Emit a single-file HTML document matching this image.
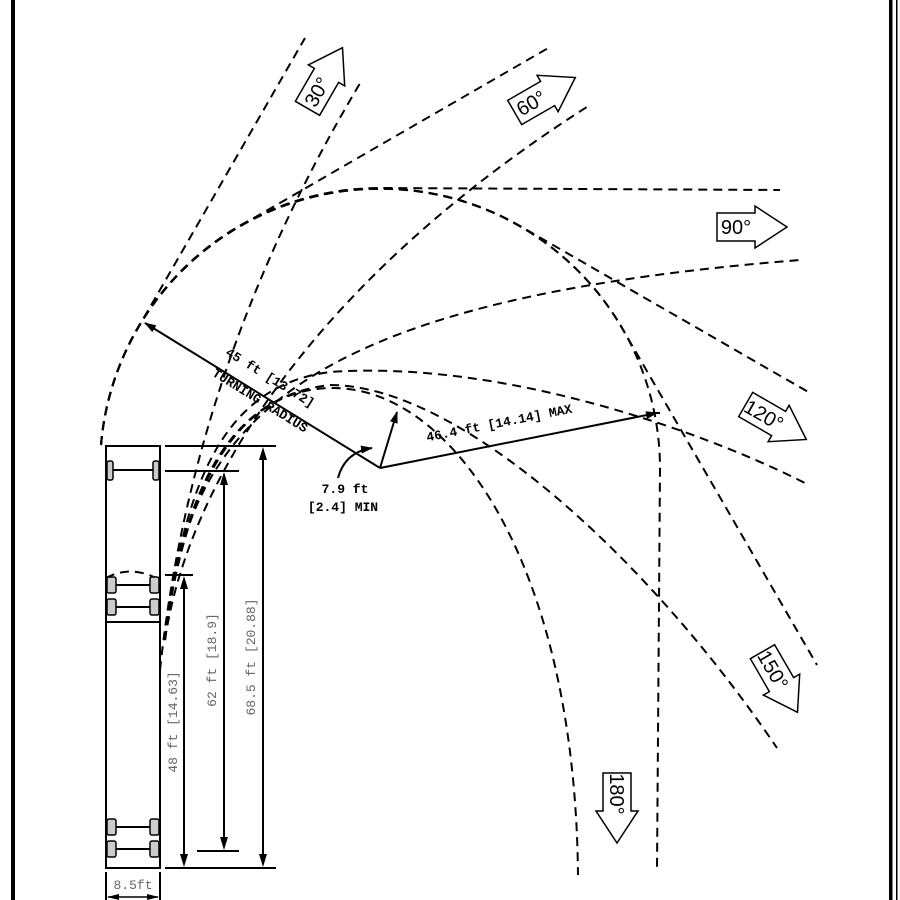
<!DOCTYPE html>
<html><head><meta charset="utf-8"><style>
html,body{margin:0;padding:0;background:#fff;width:900px;height:900px;overflow:hidden}
</style></head><body>
<svg width="900" height="900" viewBox="0 0 900 900" xmlns="http://www.w3.org/2000/svg">
<defs>
<marker id="ah" markerWidth="12" markerHeight="8" refX="11" refY="4" orient="auto" markerUnits="userSpaceOnUse">
<path d="M0,0 L12,4 L0,8 z" fill="#000"/></marker>
</defs>
<rect x="11" y="0" width="4" height="900" fill="#000"/>
<rect x="889" y="0" width="3.5" height="900" fill="#000"/>
<rect x="896" y="0" width="1.5" height="900" fill="#000"/>

<g fill="none" stroke="#000" stroke-width="2" stroke-dasharray="9 6">
<path d="M101,445 A280 280 0 0 1 138,328 L305,38"/>
<path d="M101,445 A280 280 0 0 1 240,226 L550,47"/>
<path d="M101,445 A280 280 0 0 1 380,188 L780,190"/>
<path d="M101,445 A280 280 0 0 1 520,226 L810,393"/>
<path d="M101,445 A280 280 0 0 1 622,328 L817,665"/>
<path d="M101,445 A280 280 0 0 1 660,468 L657,870"/>
<path d="M160,670 C178,500 230,300 362,80"/>
<path d="M165,640 C190,470 330,270 590,105"/>
<path d="M165,640 C185,420 300,300 800,260"/>
<path d="M165,640 C185,470 230,385 330,372 C500,360 700,430 805,483"/>
<path d="M165,640 C185,470 240,395 330,385 C460,385 650,560 777,748"/>
<path d="M165,640 C185,480 240,390 330,388 C450,385 575,560 578,875"/>
<path d="M106,578 Q130,565 156,578"/>
</g>

<g stroke="#000" stroke-width="2" fill="none">
<rect x="106" y="446" width="54" height="422"/>
<line x1="106" y1="622" x2="160" y2="622"/>
<line x1="111" y1="470" x2="155" y2="470"/>
<line x1="111" y1="585" x2="155" y2="585"/>
<line x1="111" y1="607" x2="155" y2="607"/>
<line x1="111" y1="827" x2="155" y2="827"/>
<line x1="111" y1="849" x2="155" y2="849"/>
</g>
<g fill="#ccc" stroke="#000" stroke-width="1.5">
<rect x="107" y="461" width="6" height="19" rx="2"/><rect x="153" y="461" width="6" height="19" rx="2"/>
<rect x="107" y="577" width="9" height="16" rx="2"/><rect x="150" y="577" width="9" height="16" rx="2"/>
<rect x="107" y="599" width="9" height="16" rx="2"/><rect x="150" y="599" width="9" height="16" rx="2"/>
<rect x="107" y="819" width="9" height="16" rx="2"/><rect x="150" y="819" width="9" height="16" rx="2"/>
<rect x="107" y="841" width="9" height="16" rx="2"/><rect x="150" y="841" width="9" height="16" rx="2"/>
</g>

<g stroke="#000" stroke-width="2" fill="none">
<line x1="165" y1="446" x2="276" y2="446"/>
<line x1="165" y1="471" x2="239" y2="471"/>
<line x1="165" y1="575" x2="193" y2="575"/>
<line x1="165" y1="868" x2="276" y2="868"/>
<line x1="197" y1="851" x2="239" y2="851"/>
<line x1="263" y1="458" x2="263" y2="856"/>
<line x1="224" y1="483" x2="224" y2="839"/>
<line x1="184" y1="587" x2="184" y2="856"/>
<line x1="106" y1="872" x2="106" y2="900"/>
<line x1="160" y1="872" x2="160" y2="900"/>
<line x1="108" y1="897" x2="158" y2="897" stroke-width="1.5"/>
</g>
<g fill="#000">
<path d="M263,447 l-4,13 h8z"/><path d="M263,867 l-4,-13 h8z"/>
<path d="M224,472 l-4,13 h8z"/><path d="M224,850 l-4,-13 h8z"/>
<path d="M184,576 l-4,13 h8z"/><path d="M184,867 l-4,-13 h8z"/>
<path d="M107,897 l12,-3 v6z"/><path d="M159,897 l-12,-3 v6z"/>
</g>
<g font-family="Liberation Mono, monospace" font-size="13" fill="#666" text-anchor="middle">
<text transform="translate(255,657) rotate(-90)">68.5 ft [20.88]</text>
<text transform="translate(216,660) rotate(-90)">62 ft [18.9]</text>
<text transform="translate(177,722) rotate(-90)">48 ft [14.63]</text>
<text x="133" y="889" font-size="13">8.5ft</text>
</g>

<g stroke="#000" stroke-width="2" fill="none">
<line x1="380" y1="468" x2="145" y2="323" marker-end="url(#ah)"/>
<line x1="380" y1="468" x2="657" y2="413" marker-end="url(#ah)"/>
<line x1="380" y1="468" x2="397" y2="412" marker-end="url(#ah)"/>
<path d="M338,478 Q345,452 372,448" marker-end="url(#ah)"/>
<line x1="652" y1="413" x2="660" y2="413"/>
</g>
<g font-family="Liberation Mono, monospace" font-size="13" font-weight="bold" fill="#000" text-anchor="middle">
<text transform="translate(268,381) rotate(31.7)">45 ft [13.72]</text>
<text transform="translate(258,404) rotate(31.7)">TURNING RADIUS</text>
<text transform="translate(500,427) rotate(-11.2)">46.4 ft [14.14] MAX</text>
<text x="345" y="493">7.9 ft</text>
<text x="343" y="511">[2.4] MIN</text>
</g>

<g fill="#fff" stroke="#000" stroke-width="1.5" font-family="Liberation Sans, sans-serif" font-size="20">
<g transform="translate(325,78) rotate(-60)"><polygon points="-35,-14 3,-14 3,-21 35,0 3,21 3,14 -35,14"/><text x="-16" y="7" text-anchor="middle" fill="#000" stroke="none">30°</text></g>
<g transform="translate(545,95) rotate(-30)"><polygon points="-35,-14 3,-14 3,-21 35,0 3,21 3,14 -35,14"/><text x="-16" y="7" text-anchor="middle" fill="#000" stroke="none">60°</text></g>
<g transform="translate(752,227)"><polygon points="-35,-14 3,-14 3,-21 35,0 3,21 3,14 -35,14"/><text x="-16" y="7" text-anchor="middle" fill="#000" stroke="none">90°</text></g>
<g transform="translate(776,422) rotate(30)"><polygon points="-35,-14 3,-14 3,-21 35,0 3,21 3,14 -35,14"/><text x="-14" y="7" text-anchor="middle" fill="#000" stroke="none">120°</text></g>
<g transform="translate(780,682) rotate(60)"><polygon points="-35,-14 3,-14 3,-21 35,0 3,21 3,14 -35,14"/><text x="-14" y="7" text-anchor="middle" fill="#000" stroke="none">150°</text></g>
<g transform="translate(617,808) rotate(90)"><polygon points="-35,-14 3,-14 3,-21 35,0 3,21 3,14 -35,14"/><text x="-14" y="7" text-anchor="middle" fill="#000" stroke="none">180°</text></g>
</g>
</svg>
</body></html>
